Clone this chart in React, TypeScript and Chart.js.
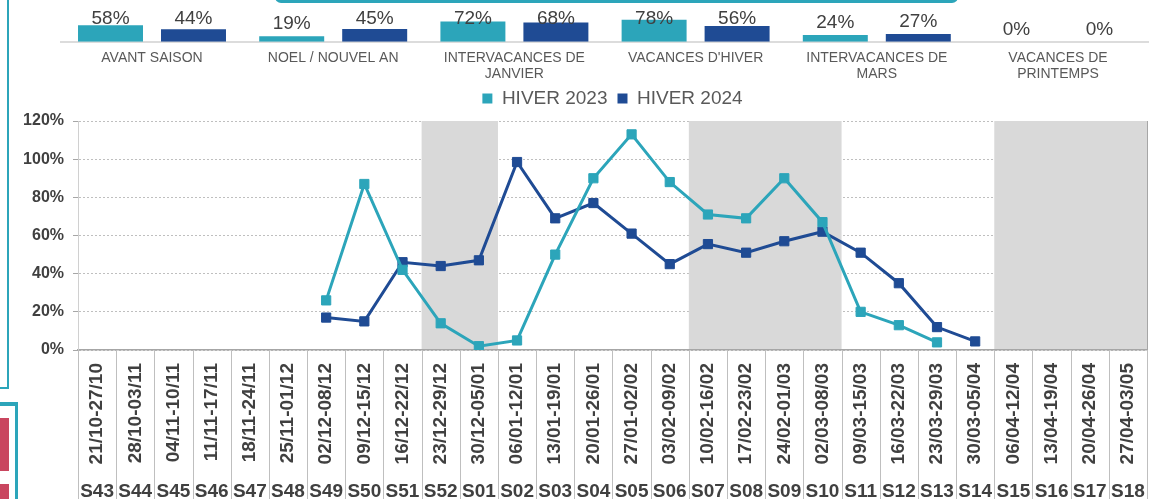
import React, { useEffect, useRef } from 'react';
import { Chart, registerables } from 'chart.js';

Chart.register(...registerables);

// ---------- DATA ----------
const weeks = ['S43', 'S44', 'S45', 'S46', 'S47', 'S48', 'S49', 'S50', 'S51', 'S52', 'S01', 'S02', 'S03', 'S04', 'S05', 'S06', 'S07', 'S08', 'S09', 'S10', 'S11', 'S12', 'S13', 'S14', 'S15', 'S16', 'S17', 'S18'];
const weekDates = ['21/10-27/10', '28/10-03/11', '04/11-10/11', '11/11-17/11', '18/11-24/11', '25/11-01/12', '02/12-08/12', '09/12-15/12', '16/12-22/12', '23/12-29/12', '30/12-05/01', '06/01-12/01', '13/01-19/01', '20/01-26/01', '27/01-02/02', '03/02-09/02', '10/02-16/02', '17/02-23/02', '24/02-01/03', '02/03-08/03', '09/03-15/03', '16/03-22/03', '23/03-29/03', '30/03-05/04', '06/04-12/04', '13/04-19/04', '20/04-26/04', '27/04-03/05'];
const hiver2023 = [null, null, null, null, null, null, 26, 87, 42, 14, 2, 5, 50, 90, 113, 88, 71, 69, 90, 67, 20, 13, 4, null, null, null, null, null];
const hiver2024 = [null, null, null, null, null, null, 17, 15, 46, 44, 47, 98.5, 69, 77, 61, 45, 55.5, 51, 57, 62, 51, 35, 12, 4.5, null, null, null, null];
const seriesNames = ['HIVER 2023', 'HIVER 2024'];
const shadedWeeks = ['S52', 'S01', 'S07', 'S08', 'S09', 'S10', 'S15', 'S16', 'S17', 'S18'];
const yTicks = [0, 20, 40, 60, 80, 100, 120];

const periods = [['AVANT SAISON'], ['NOEL / NOUVEL AN'], ['INTERVACANCES DE', 'JANVIER'], ["VACANCES D'HIVER"], ['INTERVACANCES DE', 'MARS'], ['VACANCES DE', 'PRINTEMPS']];
const period2023 = [58, 19, 72, 78, 24, 0];
const period2024 = [44, 45, 68, 56, 27, 0];

// ---------- STYLE ----------
const TEAL = '#2CA5BA';
const BLUE = '#1F4B94';
const FONT = "'Liberation Sans', Arial, sans-serif";

Chart.defaults.font.family = FONT;

const barLabelPlugin = {
  id: 'barLabels',
  afterDatasetsDraw(chart: any) {
    const ctx = chart.ctx;
    ctx.save();
    ctx.font = `19px ${FONT}`;
    ctx.fillStyle = '#404040';
    ctx.textAlign = 'center';
    ctx.textBaseline = 'middle';
    chart.data.datasets.forEach((ds: any, i: number) => {
      const meta = chart.getDatasetMeta(i);
      meta.data.forEach((el: any, j: number) => {
        const y = Math.max(el.y - 12.3, chart.chartArea.top + 19);
        ctx.fillText(ds.data[j] + '%', el.x, y);
      });
    });
    ctx.restore();
  },
};

const bandPlugin = {
  id: 'bands',
  beforeDatasetsDraw(chart: any) {
    const x = chart.scales.x;
    const y = chart.scales.y;
    const ctx = chart.ctx;
    const half = (x.getPixelForValue(1) - x.getPixelForValue(0)) / 2;
    const idx = shadedWeeks.map((w) => weeks.indexOf(w)).sort((a, b) => a - b);
    const runs: number[][] = [];
    idx.forEach((i) => {
      const last = runs[runs.length - 1];
      if (last && last[1] === i - 1) last[1] = i;
      else runs.push([i, i]);
    });
    const top = y.getPixelForValue(yTicks[yTicks.length - 1]);
    const bottom = y.getPixelForValue(0) - 1;
    ctx.save();
    ctx.fillStyle = '#D9D9D9';
    runs.forEach(([a, b]) => {
      const x0 = x.getPixelForValue(a) - half;
      const x1 = x.getPixelForValue(b) + half;
      ctx.fillRect(x0, top, x1 - x0, bottom - top);
    });
    ctx.restore();
  },
};

const dividerPlugin = {
  id: 'dividers',
  afterDraw(chart: any) {
    const x = chart.scales.x;
    const ctx = chart.ctx;
    const { left, right, top, bottom } = chart.chartArea;
    ctx.save();
    ctx.strokeStyle = '#BFBFBF';
    ctx.lineWidth = 1;
    const n = weeks.length;
    for (let i = 0; i <= n; i++) {
      let px = i === 0 ? left : i === n ? right : (x.getPixelForValue(i - 1) + x.getPixelForValue(i)) / 2;
      px = Math.round(px) + 0.5;
      ctx.beginPath();
      ctx.moveTo(px, bottom);
      ctx.lineTo(px, chart.height);
      ctx.stroke();
    }
    ctx.strokeStyle = '#A6A6A6';
    ctx.beginPath();
    ctx.moveTo(Math.round(right) + 0.5, top);
    ctx.lineTo(Math.round(right) + 0.5, bottom);
    ctx.stroke();
    ctx.restore();
  },
};

function TopBars() {
  const ref = useRef<HTMLCanvasElement>(null);
  useEffect(() => {
    const chart = new Chart(ref.current!, {
      type: 'bar',
      data: {
        labels: periods as any,
        datasets: [
          { label: seriesNames[0], data: period2023, backgroundColor: TEAL, categoryPercentage: 0.916, barPercentage: 0.783 },
          { label: seriesNames[1], data: period2024, backgroundColor: BLUE, categoryPercentage: 0.916, barPercentage: 0.783 },
        ],
      },
      options: {
        responsive: false,
        animation: false,
        layout: { padding: { left: 61.4, right: 15.4, top: 0, bottom: 0 } },
        plugins: { legend: { display: false }, tooltip: { enabled: false } },
        scales: {
          x: {
            grid: { display: true, drawOnChartArea: false, drawTicks: false },
            border: { display: true, color: '#DCDCDC', width: 2 },
            ticks: { autoSkip: false, maxRotation: 0, minRotation: 0, padding: 9, color: '#595959', font: { size: 14, lineHeight: 1.12 } },
            afterFit: (s: any) => { s.height = 50.3; },
          },
          y: { display: false, min: 0, max: 148 },
        },
      },
      plugins: [barLabelPlugin],
    });
    return () => chart.destroy();
  }, []);
  return <canvas ref={ref} width={1164} height={92} style={{ position: 'absolute', left: 0, top: 0, width: 1164, height: 92 }} />;
}

function MainChart() {
  const ref = useRef<HTMLCanvasElement>(null);
  useEffect(() => {
    const mk = (label: string, data: any[], color: string) => ({
      label,
      data,
      borderColor: color,
      backgroundColor: color,
      borderWidth: 3,
      pointStyle: 'rect' as const,
      pointRadius: 6.5,
      pointBorderWidth: 1,
      pointBackgroundColor: color,
      pointBorderColor: color,
      tension: 0,
      spanGaps: false,
    });
    const chart = new Chart(ref.current!, {
      type: 'line',
      data: {
        labels: weekDates,
        datasets: [mk(seriesNames[0], hiver2023, TEAL), mk(seriesNames[1], hiver2024, BLUE)],
      },
      options: {
        responsive: false,
        animation: false,
        layout: { padding: { left: 0, right: 17, top: 0, bottom: 0 } },
        plugins: {
          tooltip: { enabled: false },
          title: { display: true, text: '', position: 'top', weight: 500, fullSize: false, padding: 0, font: { size: 3, lineHeight: 1 } },
          legend: {
            display: true,
            position: 'top',
            fullSize: false,
            labels: {
              boxWidth: 10,
              boxHeight: 10,
              padding: 10,
              color: '#595959',
              font: { size: 19 },
              generateLabels: (c: any) =>
                (Chart.defaults.plugins.legend.labels.generateLabels as any)(c).map((l: any) => ({ ...l, lineWidth: 0 })),
            },
          },
        },
        scales: {
          x: {
            type: 'category',
            position: 'bottom',
            offset: true,
            weight: 0,
            grid: { display: true, drawOnChartArea: false, drawTicks: false, offset: true },
            border: { display: true, color: '#A6A6A6', width: 1.5 },
            ticks: { autoSkip: false, minRotation: 90, maxRotation: 90, padding: 13, color: '#404040', font: { size: 19, weight: 'bold' } },
            afterFit: (s: any) => { s.height = 128; },
          },
          x2: {
            type: 'category',
            labels: weeks,
            position: 'bottom',
            offset: true,
            weight: 1,
            grid: { display: false, drawTicks: false },
            border: { display: false },
            ticks: { autoSkip: false, minRotation: 0, maxRotation: 0, padding: 2, color: '#404040', font: { size: 19, weight: 'bold' } },
            afterFit: (s: any) => { s.height = 39; },
          },
          y: {
            min: yTicks[0],
            max: yTicks[yTicks.length - 1],
            afterBuildTicks: (s: any) => { s.ticks = yTicks.map((v) => ({ value: v })); },
            ticks: { callback: (v: any) => v + '%', padding: 9, color: '#404040', font: { size: 16, weight: 'bold' } },
            grid: { color: '#BFBFBF', lineWidth: 1, drawTicks: true, tickLength: 5, tickColor: '#A6A6A6', tickBorderDash: [] },
            border: { display: true, color: '#D0D0D0', dash: [2, 2] },
            afterFit: (s: any) => { s.width = 78; },
          },
        },
      } as any,
      plugins: [bandPlugin, dividerPlugin],
    });
    return () => chart.destroy();
  }, []);
  return <canvas ref={ref} width={1164} height={438} style={{ position: 'absolute', left: 0, top: 79, width: 1164, height: 438 }} />;
}

export default function App() {
  return (
    <div style={{ position: 'absolute', left: 0, top: 0, width: 1164, height: 499, overflow: 'hidden', background: '#fff' }}>
      {/* decorative frame fragments */}
      <div style={{ position: 'absolute', left: 275, top: -20, width: 683, height: 23, border: `3px solid ${TEAL}`, borderRadius: 6, boxSizing: 'border-box' }} />
      <div style={{ position: 'absolute', left: -20, top: -20, width: 29, height: 409, border: `2px solid ${TEAL}`, boxSizing: 'border-box' }} />
      <div style={{ position: 'absolute', left: -20, top: 402, width: 38, height: 200, borderStyle: 'solid', borderColor: TEAL, borderWidth: '4px 3px 3px 3px', boxSizing: 'border-box' }} />
      <div style={{ position: 'absolute', left: 0, top: 418, width: 9, height: 53, background: '#C9465F' }} />
      <div style={{ position: 'absolute', left: 0, top: 484, width: 9, height: 30, background: '#C9465F' }} />
      <TopBars />
      <MainChart />
    </div>
  );
}
